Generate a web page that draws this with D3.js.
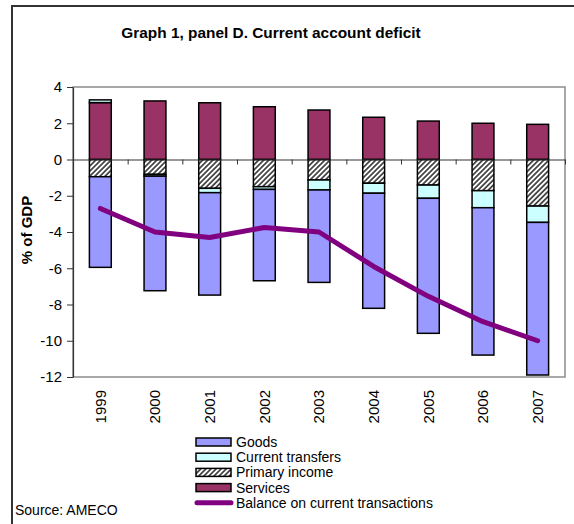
<!DOCTYPE html>
<html>
<head>
<meta charset="utf-8">
<script src="https://cdn.jsdelivr.net/npm/d3@7"></script>
<style>
  html, body { margin: 0; padding: 0; background: #fff; }
  svg { display: block; font-family: "Liberation Sans", Arial, sans-serif; }
</style>
</head>
<body>
<svg id="chart" width="574" height="524"></svg>
<script>
// Current account components, % of GDP
const years = ["1999", "2000", "2001", "2002", "2003", "2004", "2005", "2006", "2007"];
const goods = [-5.0, -6.32, -5.65, -5.04, -5.1, -6.35, -7.45, -8.13, -8.42];
const currentTransfers = [0.15, -0.1, -0.24, -0.15, -0.55, -0.55, -0.73, -0.94, -0.9];
const primaryIncome = [-0.95, -0.82, -1.59, -1.5, -1.13, -1.31, -1.41, -1.72, -2.57];
const services = [3.14, 3.23, 3.13, 2.91, 2.73, 2.33, 2.12, 2.0, 1.94];
const balance = [-2.7, -4.0, -4.3, -3.75, -4.0, -5.9, -7.55, -8.95, -10.0];
const yTicks = [4, 2, 0, -2, -4, -6, -8, -10, -12];

const seriesKeys = ["services", "primaryIncome", "currentTransfers", "goods"];
const seriesValues = { services, primaryIncome, currentTransfers, goods };
const fills = {
  goods: "#9999ff",
  currentTransfers: "#ccffff",
  primaryIncome: "url(#hatch)",
  services: "#993366"
};
const legendItems = [
  { key: "goods", label: "Goods" },
  { key: "currentTransfers", label: "Current transfers" },
  { key: "primaryIncome", label: "Primary income" },
  { key: "services", label: "Services" },
  { key: "balance", label: "Balance on current transactions" }
];

const rows = years.map((y, i) => {
  const r = { year: y };
  seriesKeys.forEach(k => r[k] = seriesValues[k][i]);
  return r;
});

const svg = d3.select("#chart");
const plot = { left: 73, right: 565, top: 87, bottom: 377 };

// hatch pattern for primary income
const defs = svg.append("defs");
const pat = defs.append("pattern")
  .attr("id", "hatch")
  .attr("patternUnits", "userSpaceOnUse")
  .attr("width", 3.6).attr("height", 3.6)
  .attr("patternTransform", "rotate(45)");
pat.append("rect").attr("width", 3.6).attr("height", 3.6).attr("fill", "#ffffff");
pat.append("line").attr("x1", 0.9).attr("y1", 0).attr("x2", 0.9).attr("y2", 3.6)
  .attr("stroke", "#3a3a3a").attr("stroke-width", 1.7);

// outer frame
svg.append("rect")
  .attr("x", 12).attr("y", 6).attr("width", 700).attr("height", 700)
  .attr("fill", "none").attr("stroke", "#333").attr("stroke-width", 2);

// title
svg.append("text")
  .attr("x", 271).attr("y", 38)
  .attr("text-anchor", "middle")
  .attr("font-size", 15.4).attr("font-weight", "bold")
  .text("Graph 1, panel D. Current account deficit");

const x = d3.scaleBand().domain(years).range([plot.left, plot.right])
  .paddingInner(0.6).paddingOuter(0.3);
const y = d3.scaleLinear().domain([-12, 4]).range([plot.bottom, plot.top]);
const boundary = d3.scaleLinear().domain([0, years.length]).range([plot.left, plot.right]);

// plot area border
svg.append("rect")
  .attr("x", plot.left).attr("y", plot.top)
  .attr("width", plot.right - plot.left).attr("height", plot.bottom - plot.top)
  .attr("fill", "none").attr("stroke", "#8c8c8c").attr("stroke-width", 1.5);

// stacked bars
const stack = d3.stack().keys(seriesKeys).offset(d3.stackOffsetDiverging);
const layers = stack(rows);

svg.append("g").selectAll("g")
  .data(layers)
  .join("g")
  .attr("fill", d => fills[d.key])
  .selectAll("rect")
  .data(d => d)
  .join("rect")
  .attr("x", d => x(d.data.year))
  .attr("width", x.bandwidth())
  .attr("y", d => y(Math.max(d[0], d[1])))
  .attr("height", d => Math.abs(y(d[0]) - y(d[1])))
  .attr("stroke", "#000").attr("stroke-width", 1.5);

// y axis
const yAxis = svg.append("g")
  .attr("transform", `translate(${plot.left},0)`)
  .call(d3.axisLeft(y).tickValues(yTicks).tickFormat(d => String(d)).tickSize(6).tickPadding(5).tickSizeOuter(0));
yAxis.select(".domain").attr("stroke", "#333").attr("stroke-width", 1.2);
yAxis.selectAll(".tick line").attr("stroke", "#333");
yAxis.selectAll("text").attr("font-size", 15).attr("fill", "#000")
  .attr("font-family", "Liberation Sans, Arial, sans-serif");

// zero line with category boundary ticks
const zAxis = svg.append("g")
  .attr("transform", `translate(0,${y(0)})`)
  .call(d3.axisBottom(boundary).tickValues(d3.range(1, years.length + 1)).tickFormat("").tickSize(5).tickSizeOuter(0));
zAxis.select(".domain").attr("stroke", "#333").attr("stroke-width", 1.2);
zAxis.selectAll(".tick line").attr("stroke", "#333");

// year labels below the plot
const xAxis = svg.append("g")
  .attr("transform", `translate(0,${plot.bottom})`)
  .call(d3.axisBottom(x).tickSize(0));
xAxis.select(".domain").remove();
xAxis.selectAll("text")
  .attr("font-size", 15).attr("fill", "#000")
  .attr("font-family", "Liberation Sans, Arial, sans-serif")
  .attr("transform", "rotate(-90)")
  .attr("text-anchor", "end")
  .attr("x", -13).attr("y", 0).attr("dy", "0.35em");

// y axis title
svg.append("text")
  .attr("transform", `translate(32,230) rotate(-90)`)
  .attr("text-anchor", "middle")
  .attr("font-size", 15).attr("font-weight", "bold")
  .text("% of GDP");

// balance line
const line = d3.line()
  .x((d, i) => x(years[i]) + x.bandwidth() / 2)
  .y(d => y(d));
svg.append("path")
  .datum(balance)
  .attr("d", line)
  .attr("fill", "none")
  .attr("stroke", "#800080")
  .attr("stroke-width", 5)
  .attr("stroke-linecap", "round")
  .attr("stroke-linejoin", "round");

// legend
const legend = svg.append("g").attr("transform", "translate(196,442)");
const item = legend.selectAll("g")
  .data(legendItems)
  .join("g")
  .attr("transform", (d, i) => `translate(0,${i * 15.2})`);
item.filter(d => d.key !== "balance").append("rect")
  .attr("x", 0).attr("y", -4).attr("width", 35).attr("height", 8)
  .attr("fill", d => fills[d.key])
  .attr("stroke", "#000").attr("stroke-width", 1.5);
item.filter(d => d.key === "balance").append("line")
  .attr("x1", 1).attr("x2", 35).attr("y1", 0).attr("y2", 0)
  .attr("stroke", "#800080").attr("stroke-width", 5).attr("stroke-linecap", "round");
item.append("text")
  .attr("x", 40).attr("y", 0).attr("dy", "0.36em")
  .attr("font-size", 14)
  .text(d => d.label);

// source note
svg.append("text")
  .attr("x", 15).attr("y", 515)
  .attr("font-size", 14)
  .text("Source: AMECO");
</script>
</body>
</html>
